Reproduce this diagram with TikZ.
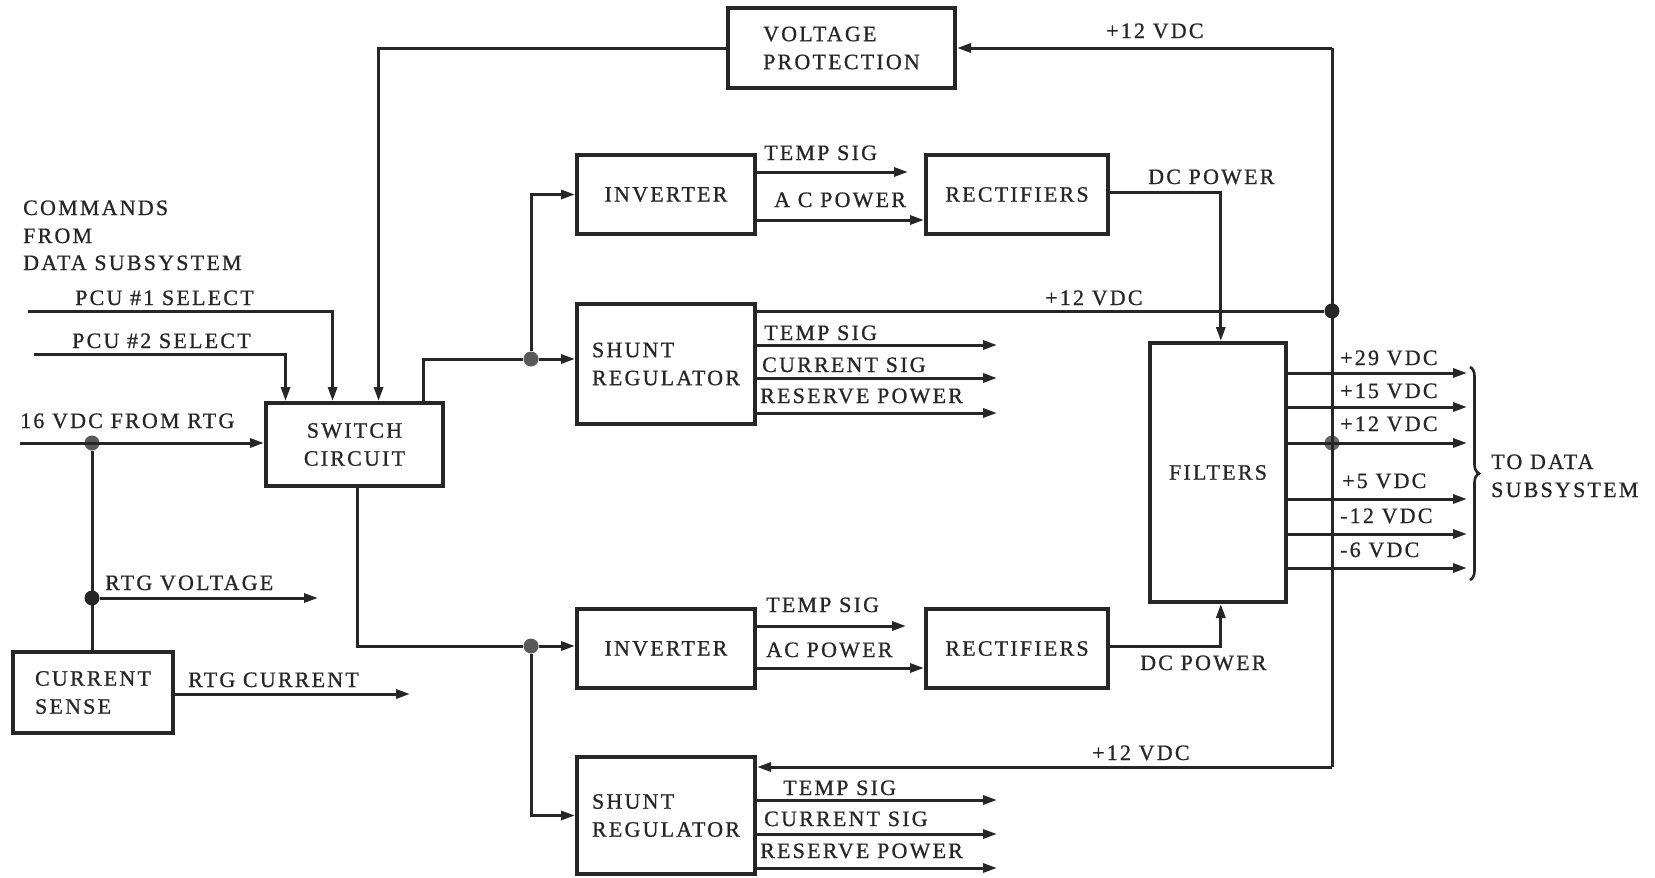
\documentclass[tikz,border=0pt]{standalone}
\usepackage{fontspec}
\setmainfont{Liberation Serif}[LetterSpace=10,FakeBold=0.8]
\usetikzlibrary{arrows.meta,decorations.pathreplacing,calc}
\begin{document}
\begin{tikzpicture}[x=1pt,y=-1pt,
  every node/.style={font=\fontsize{22}{28}\selectfont, text=black!85},
  blk/.style={draw=black!85, line width=4pt, inner sep=0pt},
  lbl/.style={anchor=base west, inner sep=0pt},
  wire/.style={line width=3pt, draw=black!85},
  arr/.style={wire, -{Triangle[length=14pt,width=9pt]}},
  jdot/.style={circle, fill=black!85, inner sep=0pt, minimum size=15pt}
]
\fill[white] (0,0) rectangle (1655,878);
\useasboundingbox (0,0) rectangle (1655,878);

% ---------- blocks ----------
\node[blk, minimum width=227pt, minimum height=80pt, align=left] (vp) at (841.5,48) {VOLTAGE\\PROTECTION};
\node[blk, minimum width=177pt, minimum height=83pt, align=center] (sw) at (354.5,444.5) {SWITCH\\CIRCUIT};
\node[blk, minimum width=178pt, minimum height=79pt] (inv1) at (666,194.5) {INVERTER};
\node[blk, minimum width=182pt, minimum height=79pt] (rec1) at (1017,194.5) {RECTIFIERS};
\node[blk, minimum width=178pt, minimum height=120pt, align=left] (sh1) at (666,364) {SHUNT\\REGULATOR};
\node[blk, minimum width=178pt, minimum height=79pt] (inv2) at (666,648.5) {INVERTER};
\node[blk, minimum width=182pt, minimum height=79pt] (rec2) at (1017,648.5) {RECTIFIERS};
\node[blk, minimum width=178pt, minimum height=117pt, align=left] (sh2) at (666,815.5) {SHUNT\\REGULATOR};
\node[blk, minimum width=136pt, minimum height=259pt] (flt) at (1218,472.5) {FILTERS};
\node[blk, minimum width=160pt, minimum height=81pt, align=left] (cs) at (93,692.5) {CURRENT\\SENSE};

% ---------- junctions and free ends ----------
\coordinate (bt) at (1332,48);
\node[jdot] (b1) at (1332,311) {};
\node[jdot, fill=black!60] (b2) at (1332,443) {};
\coordinate (bb) at (1332,767);
\node[jdot, fill=black!65] (jA) at (531,359) {};
\node[jdot, fill=black!65] (jB) at (531,646) {};
\node[jdot, fill=black!65] (d16) at (92,443) {};
\node[jdot] (dv) at (92,598) {};
\coordinate (p1) at (28,311);
\coordinate (p2) at (34,354);
\coordinate (v16) at (20,443);
\coordinate (rv) at (318,598);
\coordinate (rc) at (410,694);

% ---------- +12 VDC bus ----------
\draw[wire] (bt) -- (bb);
\draw[arr] (bt) -- (vp.east);
\draw[wire] (b1) -- (b1 -| sh1.east);
\draw[arr] (bb) -- (bb -| sh2.east);

% ---------- left side ----------
\draw[arr] (vp.west) -| ($(sw.north west)!0.633!(sw.north east)$);
\draw[arr] (p1) -| ($(sw.north west)!0.379!(sw.north east)$);
\draw[arr] (p2) -| ($(sw.north west)!0.119!(sw.north east)$);
\draw[arr] (v16) -- (sw.west |- v16);
\draw[wire] (d16) -- (d16 |- cs.north);
\draw[arr] (dv) -- (rv);
\draw[arr] (cs.east |- rc) -- (rc);

% ---------- switch outputs ----------
\draw[wire] ($(sw.north west)!0.88!(sw.north east)$) |- (jA);
\draw[wire] ($(sw.south west)!0.514!(sw.south east)$) |- (jB);
\draw[arr] (jA) |- (inv1.west);
\draw[arr] (jA) -- (jA -| sh1.west);
\draw[arr] (jB) -- (jB -| inv2.west);
\draw[arr] (jB) |- (sh2.west);

% ---------- upper chain ----------
\coordinate (ts1) at (908,172);
\draw[arr] (inv1.east |- ts1) -- (ts1);
\coordinate (ac1) at (760,220);
\draw[arr] (ac1 -| inv1.east) -- (ac1 -| rec1.west);
\draw[arr] ($(rec1.north east)!0.48!(rec1.south east)$) -| ($(flt.north west)!0.52!(flt.north east)$);

\coordinate (o11) at (997,345);
\coordinate (o12) at (997,378);
\coordinate (o13) at (997,413);
\draw[arr] (o11 -| sh1.east) -- (o11);
\draw[arr] (o12 -| sh1.east) -- (o12);
\draw[arr] (o13 -| sh1.east) -- (o13);

% ---------- lower chain ----------
\coordinate (ts2) at (906,626);
\draw[arr] (inv2.east |- ts2) -- (ts2);
\coordinate (ac2) at (760,668);
\draw[arr] (ac2 -| inv2.east) -- (ac2 -| rec2.west);
\draw[arr] ($(rec2.north east)!0.47!(rec2.south east)$) -| ($(flt.south west)!0.52!(flt.south east)$);

\coordinate (o21) at (997,800);
\coordinate (o22) at (997,834);
\coordinate (o23) at (997,868);
\draw[arr] (o21 -| sh2.east) -- (o21);
\draw[arr] (o22 -| sh2.east) -- (o22);
\draw[arr] (o23 -| sh2.east) -- (o23);

% ---------- filter outputs ----------
\foreach \y/\n in {373/f1,407/f2,443/f3,499/f4,534/f5,568/f6}{
  \coordinate (\n) at (1467,\y);
  \draw[arr] (\n -| flt.east) -- (\n);
}
\coordinate (brT) at (1470,367);
\coordinate (brB) at (1470,580);
\draw[line width=2.6pt, draw=black!85, decorate, decoration={brace, amplitude=9pt}] (brT) -- (brB);

% ---------- labels ----------
\node[lbl] (l1) at (1106,38) {+12 VDC};
\node[lbl] (l2) at (1045,305) {+12 VDC};
\node[lbl] (l3) at (1092,760) {+12 VDC};
\node[lbl] (l4) at (1148,184) {DC POWER};
\node[lbl] (l5) at (1140,670) {DC POWER};
\node[lbl] (l6) at (764,160) {TEMP SIG};
\node[lbl] (l7) at (774,207) {A C POWER};
\node[lbl] (l8) at (766,612) {TEMP SIG};
\node[lbl] (l9) at (766,657) {AC POWER};
\node[lbl] (l10) at (764,340) {TEMP SIG};
\node[lbl] (l11) at (762,372) {CURRENT SIG};
\node[lbl] (l12) at (760,403) {RESERVE POWER};
\node[lbl] (l13) at (783,795) {TEMP SIG};
\node[lbl] (l14) at (764,826) {CURRENT SIG};
\node[lbl] (l15) at (760,858) {RESERVE POWER};
\node[lbl] (l16) at (1340,365) {+29 VDC};
\node[lbl] (l17) at (1340,398) {+15 VDC};
\node[lbl] (l18) at (1340,431) {+12 VDC};
\node[lbl] (l19) at (1342,488) {+5 VDC};
\node[lbl] (l20) at (1340,523) {-12 VDC};
\node[lbl] (l21) at (1340,557) {-6 VDC};
\node[lbl] (l22) at (1491,469) {TO DATA};
\node[lbl] (l23) at (1491,497) {SUBSYSTEM};
\node[lbl] (l24) at (23,215) {COMMANDS};
\node[lbl] (l25) at (23,243) {FROM};
\node[lbl] (l26) at (23,270) {DATA SUBSYSTEM};
\node[lbl] (l27) at (75,305) {PCU \#1 SELECT};
\node[lbl] (l28) at (72,348) {PCU \#2 SELECT};
\node[lbl] (l29) at (20,428) {16 VDC FROM RTG};
\node[lbl] (l30) at (105,590) {RTG VOLTAGE};
\node[lbl] (l31) at (188,687) {RTG CURRENT};
\end{tikzpicture}
\end{document}
